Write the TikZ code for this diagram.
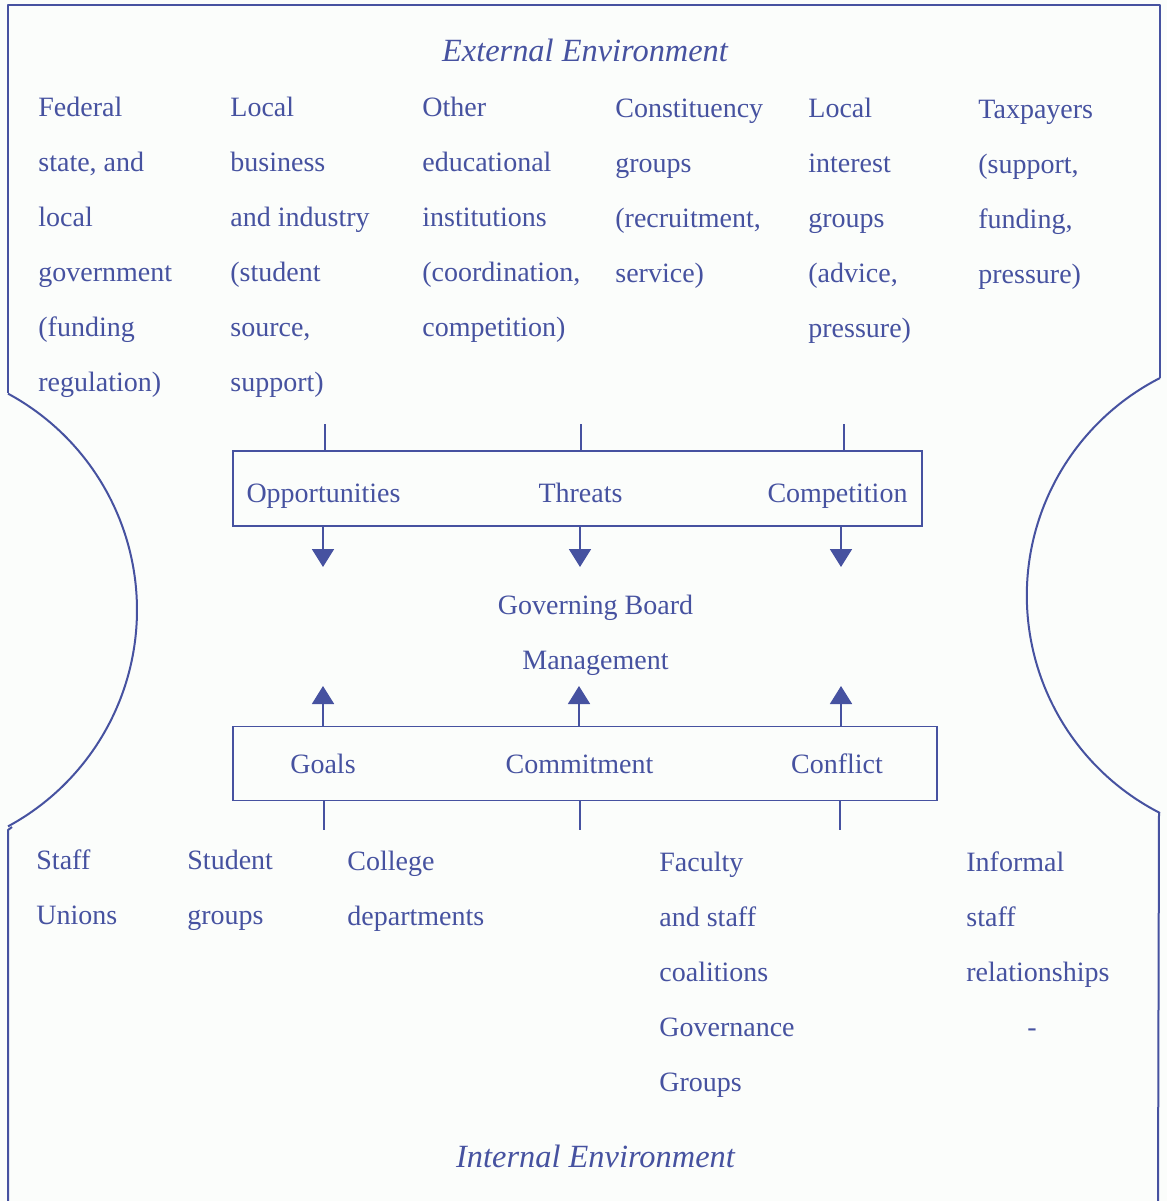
\documentclass[tikz,border=0pt]{standalone}
\usepackage{fontspec}
\setmainfont{Liberation Serif}
\usetikzlibrary{arrows.meta}
\definecolor{ink}{RGB}{70,82,160}
\definecolor{paper}{RGB}{251,253,251}
\begin{document}
\begin{tikzpicture}[x=0.5pt,y=-0.5pt,
  lbl/.style={anchor=base west, inner sep=0pt, text=ink, font=\fontsize{14}{16}\selectfont},
  ctr/.style={anchor=base, inner sep=0pt, text=ink, font=\fontsize{14}{16}\selectfont},
  ttl/.style={anchor=base, inner sep=0pt, text=ink, font=\fontsize{16.2}{19}\selectfont\itshape},
  edge/.style={draw=ink, line width=1pt, line join=round},
  boxnode/.style={draw=ink, line width=0.9pt, inner sep=0pt},
  tick/.style={draw=ink, line width=0.9pt},
  arr/.style={draw=ink, line width=0.9pt, -{Triangle[width=11pt,length=9pt]}},
]
\fill[paper] (0,0) rectangle (1167,1201);
\useasboundingbox (0,0) rectangle (1167,1201);

% outline
\draw[edge] (8,393) -- (8,5) -- (1160,5) -- (1160,378);
\draw[edge] plot[domain=-61.6:61.6, samples=80, smooth] ({-109+246*cos(\x)}, {610+246*sin(\x)});
\draw[edge] (12,827) -- (8,830) -- (8,1201);
\draw[edge] plot[domain=242.96:117.04, samples=80, smooth] ({1271+244.2*cos(\x)}, {595.5+244.2*sin(\x)});
\draw[edge] (1159,813) -- (1158,1201);

% titles
\node[ttl] (ext) at (585,61) {External Environment};
\node[ttl] (int) at (595.5,1167) {Internal Environment};

% external columns
\foreach \t [count=\i] in {{Federal}, {state, and}, {local}, {government}, {(funding}, {regulation)}}
  \node[lbl] (a\i) at (38,{116+55*(\i-1)}) {\t};
\foreach \t [count=\i] in {{Local}, {business}, {and industry}, {(student}, {source,}, {support)}}
  \node[lbl] (b\i) at (230,{116+55*(\i-1)}) {\t};
\foreach \t [count=\i] in {{Other}, {educational}, {institutions}, {(coordination,}, {competition)}}
  \node[lbl] (c\i) at (422,{116+55*(\i-1)}) {\t};
\foreach \t [count=\i] in {{Constituency}, {groups}, {(recruitment,}, {service)}}
  \node[lbl] (d\i) at (615,{117+55*(\i-1)}) {\t};
\foreach \t [count=\i] in {{Local}, {interest}, {groups}, {(advice,}, {pressure)}}
  \node[lbl] (e\i) at (808,{117+55*(\i-1)}) {\t};
\foreach \t [count=\i] in {{Taxpayers}, {(support,}, {funding,}, {pressure)}}
  \node[lbl] (f\i) at (978,{118+55*(\i-1)}) {\t};

% top box
\node[boxnode, minimum width=344.5pt, minimum height=37.5pt] (top) at (577.5,488.5) {};
\node[ctr] (opp) at (323.5,502) {Opportunities};
\node[ctr] (thr) at (580.5,502) {Threats};
\node[ctr] (comp) at (837.5,502) {Competition};

\coordinate (ta1) at (325,424);
\coordinate (ta2) at (581,424);
\coordinate (ta3) at (844,424);
\draw[tick] (ta1) -- (ta1 |- top.north);
\draw[tick] (ta2) -- (ta2 |- top.north);
\draw[tick] (ta3) -- (ta3 |- top.north);

\coordinate (ha1) at (323,567);
\coordinate (ha2) at (580,567);
\coordinate (ha3) at (841,567);
\draw[arr] (ha1 |- top.south) -- (ha1);
\draw[arr] (ha2 |- top.south) -- (ha2);
\draw[arr] (ha3 |- top.south) -- (ha3);

% centre
\node[ctr] (gov) at (595.5,614) {Governing Board};
\node[ctr] (man) at (595.5,669) {Management};

% bottom box
\node[boxnode, minimum width=352pt, minimum height=37pt] (bot) at (585,763.5) {};
\node[ctr] (goals) at (323,773) {Goals};
\node[ctr] (comm) at (579.5,773) {Commitment};
\node[ctr] (conf) at (837,773) {Conflict};

\coordinate (hb1) at (323,686);
\coordinate (hb2) at (579,686);
\coordinate (hb3) at (841,686);
\draw[arr] (hb1 |- bot.north) -- (hb1);
\draw[arr] (hb2 |- bot.north) -- (hb2);
\draw[arr] (hb3 |- bot.north) -- (hb3);

\coordinate (tb1) at (324,830);
\coordinate (tb2) at (580,830);
\coordinate (tb3) at (840,830);
\draw[tick] (tb1 |- bot.south) -- (tb1);
\draw[tick] (tb2 |- bot.south) -- (tb2);
\draw[tick] (tb3 |- bot.south) -- (tb3);

% internal columns
\foreach \t [count=\i] in {{Staff}, {Unions}}
  \node[lbl] (g\i) at (36,{869+55*(\i-1)}) {\t};
\foreach \t [count=\i] in {{Student}, {groups}}
  \node[lbl] (h\i) at (187,{869+55*(\i-1)}) {\t};
\foreach \t [count=\i] in {{College}, {departments}}
  \node[lbl] (k\i) at (347,{870+55*(\i-1)}) {\t};
\foreach \t [count=\i] in {{Faculty}, {and staff}, {coalitions}, {Governance}, {Groups}}
  \node[lbl] (m\i) at (659,{871+55*(\i-1)}) {\t};
\foreach \t [count=\i] in {{Informal}, {staff}, {relationships}}
  \node[lbl] (n\i) at (966,{871+55*(\i-1)}) {\t};
\node[ctr] (dash) at (1032,1036) {-};
\end{tikzpicture}
\end{document}
